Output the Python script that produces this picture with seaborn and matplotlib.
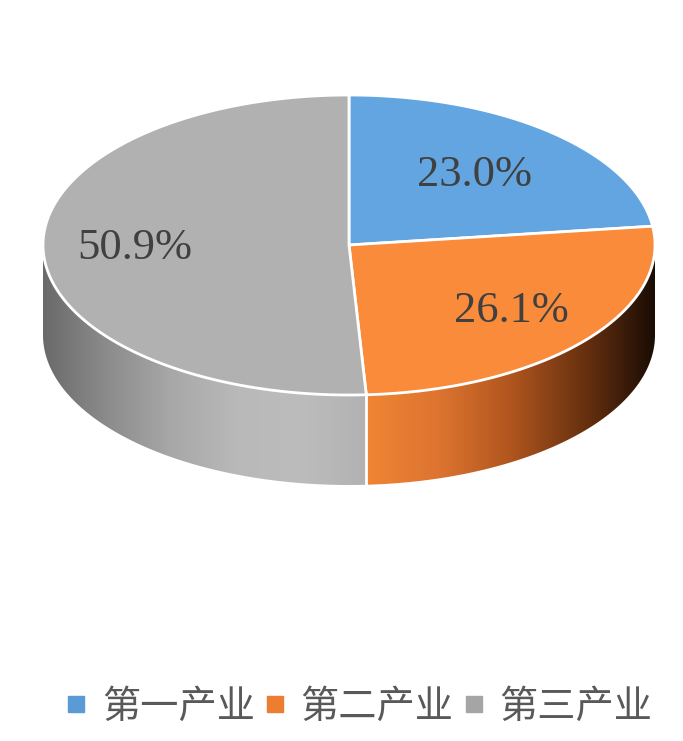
import numpy as np
import matplotlib.pyplot as plt
import seaborn as sns
from matplotlib.patches import Polygon
from matplotlib.lines import Line2D
from matplotlib.colors import LinearSegmentedColormap

categories = ['第一产业', '第二产业', '第三产业']
shares = [23.0, 26.1, 50.9]
top_colors = ['#62A5E1', '#F98B3B', '#B1B1B1']
legend_colors = ['#5B9BD5', '#ED7D31', '#A5A5A5']
side_colors = [
    ['#5B9BD5', '#2a5a8a'],
    ['#F08535', '#DD7430', '#B0561E', '#6A3210', '#1A0C04'],
    ['#6A6A6A', '#8C8C8C', '#A8A8A8', '#B9B9B9', '#BCBCBC', '#B2B2B2'],
]
label_radius = [0.62, 0.69, 0.70]

sns.set_theme(style="white")
plt.rcParams['font.family'] = ['Noto Sans CJK SC', 'DejaVu Sans']

W, H = 683, 741
fig = plt.figure(figsize=(W / 100, H / 100), dpi=100)
ax = fig.add_axes([0, 0, 1, 1])
ax.set_xlim(0, W)
ax.set_ylim(H, 0)
ax.axis('off')

# pie geometry in pixels
cx, cy, rx, ry, depth = 349, 245, 306, 150, 90


def rim(theta):
    t = np.radians(theta)
    return cx + rx * np.cos(t), cy - ry * np.sin(t)


# slice angles, clockwise from 12 o'clock
bounds = [90.0]
for s in shares:
    bounds.append(bounds[-1] - 360 * s / 100)

# --- side walls (only the front half, angles 0 .. -180) ---
for i in range(len(shares)):
    a0, a1 = bounds[i], bounds[i + 1]
    lo, hi = max(a1, -180.0), min(a0, 0.0)
    if lo >= hi:
        continue
    th = np.linspace(hi, lo, 200)
    xs, ys = rim(th)
    pts = np.vstack([np.column_stack([xs, ys]),
                     np.column_stack([xs[::-1], ys[::-1] + depth])])
    clip = Polygon(pts, closed=True, facecolor='none', edgecolor='none')
    ax.add_patch(clip)
    xmin, xmax = xs.min(), xs.max()
    cmap = LinearSegmentedColormap.from_list(f'side{i}', side_colors[i])
    grad = np.linspace(0, 1, 256).reshape(1, -1)
    im = ax.imshow(grad, cmap=cmap, aspect='auto',
                   extent=[xmin, xmax, ys.max() + depth + 2, ys.min() - 2],
                   interpolation='bilinear', zorder=1)
    im.set_clip_path(clip)

# white seams on the side wall
for b in bounds[1:-1]:
    if -180 < b < 0:
        x, y = rim(b)
        ax.plot([x, x], [y, y + depth], color='white', lw=2, zorder=2)

# --- top faces ---
for i in range(len(shares)):
    th = np.linspace(bounds[i], bounds[i + 1], 300)
    xs, ys = rim(th)
    pts = np.vstack([[cx, cy], np.column_stack([xs, ys])])
    ax.add_patch(Polygon(pts, closed=True, facecolor=top_colors[i],
                         edgecolor='white', lw=2, joinstyle='round', zorder=3))

# --- percentage labels ---
for i, s in enumerate(shares):
    mid = (bounds[i] + bounds[i + 1]) / 2
    r = label_radius[i]
    t = np.radians(mid)
    ax.text(cx + r * rx * np.cos(t), cy - r * ry * np.sin(t), f'{s:.1f}%',
            ha='center', va='center', fontsize=32, color='#404040',
            family=['Liberation Serif', 'DejaVu Serif'], zorder=4)

# --- legend ---
handles = [Line2D([], [], marker='s', linestyle='none', markersize=11,
                  markerfacecolor=c, markeredgecolor=c) for c in legend_colors]
fig.legend(handles, categories, loc='center', ncol=3,
           bbox_to_anchor=(360 / W, 1 - 707 / H), frameon=False,
           fontsize=27.5, labelcolor='#595959', handlelength=0.45,
           handletextpad=0.45, columnspacing=0.3, borderpad=0)

fig.savefig('out.png', dpi=100)
